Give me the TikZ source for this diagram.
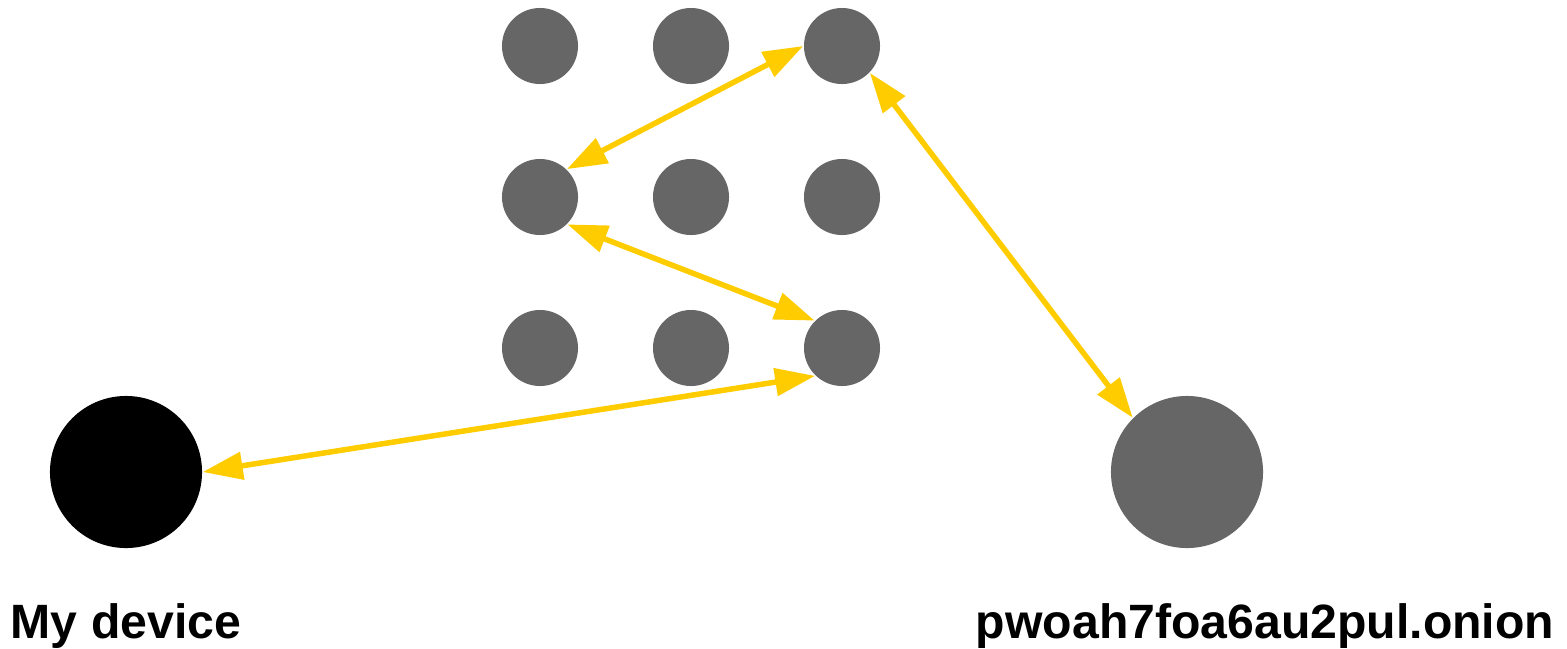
\documentclass[tikz,border=0pt]{standalone}
\usepackage{fontspec}
\setmainfont{Liberation Sans}
\usepackage{tikz}
\usetikzlibrary{arrows.meta}
\definecolor{relaygray}{HTML}{666666}
\definecolor{circuit}{HTML}{FFCC00}
\tikzset{
  relay/.style={circle,fill=relaygray,inner sep=0pt,minimum size=0.76cm},
  endpoint/.style={circle,inner sep=0pt,minimum size=1.52cm},
  hop/.style={{Triangle[length=0.4cm,width=0.27cm]}-{Triangle[length=0.4cm,width=0.27cm]},
              line width=0.055cm,circuit},
  caption/.style={anchor=base,font=\fontsize{13.7}{16}\selectfont\bfseries},
}
\begin{document}
\begin{tikzpicture}[x=0.01cm,y=-0.01cm]
  \useasboundingbox (0,0) rectangle (1567,648);
  % Relay grid
  \foreach \c/\x in {0/540,1/691,2/842}{
    \foreach \r/\y in {0/46,1/197,2/348}{
      \node[relay] (r\r\c) at (\x,\y) {};
    }
  }
  % End points
  \node[endpoint,fill=black] (me) at (126,472) {};
  \node[endpoint,fill=relaygray] (onion) at (1187,472) {};
  % Circuit
  \draw[hop] (r02.180) -- (r10.46);
  \draw[hop] (r10.-45) -- (r22.135);
  \draw[hop] (r22.226) -- (me.0);
  \draw[hop] (r02.-44) -- (onion.135);
  % Labels
  \node[caption] (melabel) at (126,638) {My device};
  \node[caption] (onionlabel) at (1265,638) {pwoah7foa6au2pul.onion};
\end{tikzpicture}
\end{document}
